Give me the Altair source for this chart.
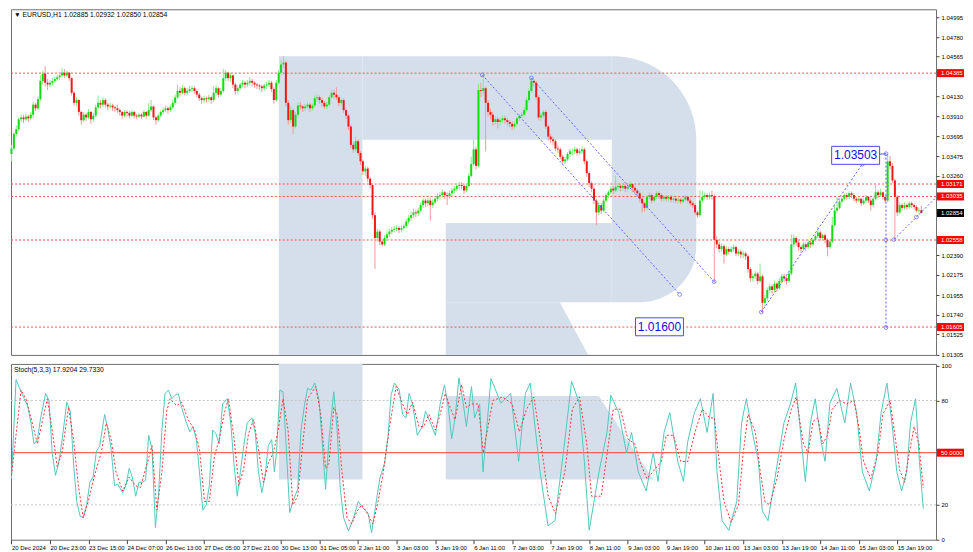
import json
import math
import altair as alt
import pandas as pd

# ---------------- layout ----------------
W, H1, H2 = 926, 346, 176
X_DOMAIN = [-0.2, 384.1]
P_DOMAIN = [1.0130, 1.05084]
S_DOMAIN = [0, 101]
FONT = "Liberation Sans"

header_text = "\u25bc EURUSD,H1  1.02885 1.02932 1.02850 1.02854"
stoch_header = "Stoch(5,3,3) 17.9204 29.7330"

# ---------------- price data (H1 bars) ----------------
first_open = 1.0350
close = [
 1.0356, 1.0372, 1.0377, 1.0388, 1.0390, 1.0388, 1.0391, 1.0389, 1.0393, 1.0404,
 1.0400, 1.0410, 1.0430, 1.0438, 1.0428, 1.0426, 1.0428, 1.0430, 1.0432, 1.0434,
 1.0436, 1.0439, 1.0436, 1.0439, 1.0433, 1.0417, 1.0406, 1.0409, 1.0396, 1.0387,
 1.0393, 1.0390, 1.0396, 1.0388, 1.0392, 1.0401, 1.0406, 1.0404, 1.0409, 1.0404,
 1.0402, 1.0403, 1.0401, 1.0400, 1.0398, 1.0396, 1.0392, 1.0396, 1.0395, 1.0392,
 1.0396, 1.0392, 1.0391, 1.0393, 1.0391, 1.0396, 1.0392, 1.0398, 1.0402, 1.0390,
 1.0387, 1.0392, 1.0396, 1.0398, 1.0400, 1.0398, 1.0401, 1.0406, 1.0412, 1.0419,
 1.0417, 1.0422, 1.0417, 1.0419, 1.0421, 1.0422, 1.0419, 1.0415, 1.0411, 1.0409,
 1.0411, 1.0410, 1.0412, 1.0409, 1.0417, 1.0422, 1.0415, 1.0419, 1.0433, 1.0439,
 1.0433, 1.0436, 1.0426, 1.0419, 1.0422, 1.0426, 1.0428, 1.0426, 1.0428, 1.0430,
 1.0428, 1.0426, 1.0425, 1.0424, 1.0422, 1.0425, 1.0426, 1.0428, 1.0421, 1.0409,
 1.0428, 1.0439, 1.0448, 1.0450, 1.0406, 1.0387, 1.0398, 1.0380, 1.0393, 1.0403,
 1.0402, 1.0400, 1.0402, 1.0404, 1.0400, 1.0403, 1.0411, 1.0412, 1.0409, 1.0406,
 1.0402, 1.0404, 1.0412, 1.0417, 1.0415, 1.0412, 1.0406, 1.0409, 1.0398, 1.0392,
 1.0380, 1.0360, 1.0355, 1.0364, 1.0351, 1.0342, 1.0331, 1.0334, 1.0323, 1.0316,
 1.0283, 1.0258, 1.0265, 1.0254, 1.0251, 1.0258, 1.0262, 1.0265, 1.0267, 1.0268,
 1.0269, 1.0267, 1.0269, 1.0271, 1.0276, 1.0280, 1.0283, 1.0286, 1.0285, 1.0288,
 1.0294, 1.0299, 1.0296, 1.0299, 1.0294, 1.0297, 1.0301, 1.0304, 1.0305, 1.0308,
 1.0305, 1.0304, 1.0307, 1.0310, 1.0312, 1.0315, 1.0316, 1.0315, 1.0310, 1.0315,
 1.0326, 1.0339, 1.0355, 1.0337, 1.0420, 1.0419, 1.0422, 1.0406, 1.0396, 1.0393,
 1.0385, 1.0388, 1.0385, 1.0387, 1.0389, 1.0387, 1.0385, 1.0383, 1.0380, 1.0383,
 1.0389, 1.0392, 1.0393, 1.0398, 1.0409, 1.0419, 1.0430, 1.0428, 1.0412, 1.0390,
 1.0392, 1.0396, 1.0380, 1.0369, 1.0366, 1.0364, 1.0356, 1.0355, 1.0347, 1.0342,
 1.0344, 1.0350, 1.0353, 1.0353, 1.0355, 1.0351, 1.0353, 1.0355, 1.0342, 1.0329,
 1.0318, 1.0312, 1.0299, 1.0286, 1.0294, 1.0288, 1.0299, 1.0305, 1.0308, 1.0312,
 1.0310, 1.0314, 1.0315, 1.0313, 1.0315, 1.0312, 1.0314, 1.0317, 1.0313, 1.0310,
 1.0307, 1.0301, 1.0296, 1.0291, 1.0303, 1.0305, 1.0299, 1.0303, 1.0307, 1.0305,
 1.0301, 1.0303, 1.0301, 1.0303, 1.0300, 1.0301, 1.0299, 1.0300, 1.0298, 1.0300,
 1.0303, 1.0299, 1.0296, 1.0294, 1.0286, 1.0283, 1.0299, 1.0303, 1.0305, 1.0303,
 1.0305, 1.0304, 1.0256, 1.0251, 1.0246, 1.0249, 1.0240, 1.0246, 1.0243, 1.0246,
 1.0248, 1.0241, 1.0243, 1.0240, 1.0241, 1.0238, 1.0224, 1.0214, 1.0216, 1.0219,
 1.0211, 1.0216, 1.0187, 1.0192, 1.0201, 1.0205, 1.0201, 1.0208, 1.0203, 1.0211,
 1.0216, 1.0214, 1.0211, 1.0219, 1.0251, 1.0258, 1.0253, 1.0248, 1.0246, 1.0251,
 1.0248, 1.0253, 1.0251, 1.0256, 1.0260, 1.0264, 1.0258, 1.0261, 1.0256, 1.0248,
 1.0254, 1.0272, 1.0288, 1.0291, 1.0298, 1.0301, 1.0305, 1.0303, 1.0307, 1.0305,
 1.0301, 1.0299, 1.0301, 1.0296, 1.0299, 1.0303, 1.0299, 1.0294, 1.0301, 1.0308,
 1.0305, 1.0308, 1.0303, 1.0299, 1.0342, 1.0337, 1.0321, 1.0303, 1.0286, 1.0294,
 1.0291, 1.0294, 1.0292, 1.0296, 1.0294, 1.0292, 1.0288, 1.02885, 1.02854,
]
high = [
 1.0360, 1.0374, 1.0381, 1.0390, 1.0393, 1.0393, 1.0394, 1.0393, 1.0396, 1.0407,
 1.0406, 1.0413, 1.0436, 1.0441, 1.0446, 1.0432, 1.0431, 1.0433, 1.0435, 1.0437,
 1.0439, 1.0444, 1.0443, 1.0441, 1.0440, 1.0434, 1.0419, 1.0412, 1.0410, 1.0397,
 1.0396, 1.0395, 1.0399, 1.0397, 1.0395, 1.0404, 1.0414, 1.0409, 1.0412, 1.0411,
 1.0406, 1.0406, 1.0405, 1.0403, 1.0404, 1.0400, 1.0397, 1.0398, 1.0398, 1.0397,
 1.0398, 1.0397, 1.0394, 1.0395, 1.0395, 1.0398, 1.0397, 1.0406, 1.0409, 1.0403,
 1.0392, 1.0394, 1.0398, 1.0401, 1.0403, 1.0402, 1.0404, 1.0409, 1.0415, 1.0426,
 1.0423, 1.0425, 1.0424, 1.0422, 1.0424, 1.0425, 1.0424, 1.0421, 1.0417, 1.0413,
 1.0414, 1.0413, 1.0415, 1.0414, 1.0424, 1.0425, 1.0423, 1.0422, 1.0443, 1.0442,
 1.0440, 1.0439, 1.0437, 1.0428, 1.0425, 1.0428, 1.0431, 1.0430, 1.0431, 1.0434,
 1.0432, 1.0430, 1.0428, 1.0427, 1.0426, 1.0427, 1.0429, 1.0431, 1.0430, 1.0423,
 1.0431, 1.0442, 1.0453, 1.0457, 1.0452, 1.0409, 1.0402, 1.0400, 1.0396, 1.0406,
 1.0407, 1.0404, 1.0405, 1.0407, 1.0406, 1.0405, 1.0414, 1.0415, 1.0414, 1.0411,
 1.0408, 1.0407, 1.0414, 1.0420, 1.0420, 1.0423, 1.0414, 1.0412, 1.0411, 1.0400,
 1.0394, 1.0382, 1.0363, 1.0369, 1.0366, 1.0353, 1.0344, 1.0337, 1.0336, 1.0325,
 1.0318, 1.0286, 1.0268, 1.0267, 1.0257, 1.0261, 1.0265, 1.0268, 1.0270, 1.0271,
 1.0272, 1.0271, 1.0272, 1.0274, 1.0279, 1.0283, 1.0287, 1.0290, 1.0289, 1.0291,
 1.0297, 1.0302, 1.0301, 1.0302, 1.0302, 1.0300, 1.0304, 1.0307, 1.0308, 1.0311,
 1.0310, 1.0308, 1.0310, 1.0313, 1.0315, 1.0318, 1.0319, 1.0319, 1.0317, 1.0318,
 1.0329, 1.0347, 1.0366, 1.0358, 1.0427, 1.0428, 1.0437, 1.0424, 1.0409, 1.0400,
 1.0396, 1.0391, 1.0391, 1.0390, 1.0392, 1.0392, 1.0390, 1.0387, 1.0386, 1.0386,
 1.0391, 1.0394, 1.0396, 1.0401, 1.0412, 1.0422, 1.0433, 1.0432, 1.0430, 1.0414,
 1.0395, 1.0398, 1.0398, 1.0382, 1.0372, 1.0369, 1.0366, 1.0359, 1.0357, 1.0349,
 1.0347, 1.0352, 1.0355, 1.0356, 1.0358, 1.0357, 1.0356, 1.0358, 1.0357, 1.0344,
 1.0331, 1.0320, 1.0314, 1.0301, 1.0297, 1.0296, 1.0302, 1.0307, 1.0310, 1.0315,
 1.0315, 1.0326, 1.0318, 1.0317, 1.0318, 1.0317, 1.0316, 1.0320, 1.0318, 1.0315,
 1.0312, 1.0309, 1.0303, 1.0298, 1.0305, 1.0308, 1.0307, 1.0305, 1.0309, 1.0309,
 1.0307, 1.0305, 1.0305, 1.0305, 1.0305, 1.0304, 1.0303, 1.0303, 1.0302, 1.0303,
 1.0305, 1.0304, 1.0301, 1.0298, 1.0296, 1.0288, 1.0310, 1.0310, 1.0308, 1.0307,
 1.0308, 1.0310, 1.0306, 1.0260, 1.0254, 1.0252, 1.0251, 1.0249, 1.0248, 1.0249,
 1.0251, 1.0250, 1.0246, 1.0245, 1.0244, 1.0243, 1.0240, 1.0226, 1.0219, 1.0222,
 1.0221, 1.0230, 1.0218, 1.0196, 1.0204, 1.0208, 1.0207, 1.0211, 1.0210, 1.0214,
 1.0219, 1.0219, 1.0216, 1.0222, 1.0262, 1.0262, 1.0260, 1.0255, 1.0250, 1.0254,
 1.0253, 1.0256, 1.0255, 1.0258, 1.0262, 1.0270, 1.0266, 1.0263, 1.0263, 1.0258,
 1.0257, 1.0281, 1.0295, 1.0303, 1.0301, 1.0304, 1.0307, 1.0307, 1.0309, 1.0309,
 1.0307, 1.0303, 1.0303, 1.0302, 1.0301, 1.0305, 1.0304, 1.0301, 1.0303, 1.0316,
 1.0310, 1.0312, 1.0309, 1.0305, 1.03503, 1.0348, 1.0340, 1.0323, 1.0305, 1.0297,
 1.0296, 1.0297, 1.0296, 1.0298, 1.0298, 1.0296, 1.0294, 1.0291, 1.02932,
]
low = [
 1.0342, 1.0354, 1.0369, 1.0375, 1.0385, 1.0384, 1.0386, 1.0385, 1.0387, 1.0389,
 1.0397, 1.0398, 1.0408, 1.0426, 1.0424, 1.0420, 1.0423, 1.0425, 1.0428, 1.0430,
 1.0431, 1.0434, 1.0433, 1.0434, 1.0430, 1.0414, 1.0403, 1.0402, 1.0392, 1.0382,
 1.0385, 1.0386, 1.0388, 1.0383, 1.0385, 1.0390, 1.0399, 1.0400, 1.0401, 1.0401,
 1.0398, 1.0399, 1.0397, 1.0396, 1.0395, 1.0392, 1.0389, 1.0390, 1.0391, 1.0389,
 1.0390, 1.0389, 1.0388, 1.0389, 1.0388, 1.0390, 1.0389, 1.0391, 1.0396, 1.0387,
 1.0382, 1.0385, 1.0390, 1.0394, 1.0396, 1.0394, 1.0396, 1.0399, 1.0404, 1.0410,
 1.0413, 1.0415, 1.0414, 1.0414, 1.0417, 1.0418, 1.0416, 1.0412, 1.0408, 1.0405,
 1.0406, 1.0406, 1.0407, 1.0405, 1.0407, 1.0414, 1.0412, 1.0413, 1.0417, 1.0430,
 1.0430, 1.0429, 1.0422, 1.0415, 1.0416, 1.0420, 1.0423, 1.0422, 1.0423, 1.0425,
 1.0424, 1.0422, 1.0421, 1.0420, 1.0418, 1.0419, 1.0421, 1.0423, 1.0418, 1.0405,
 1.0407, 1.0426, 1.0436, 1.0444, 1.0402, 1.0382, 1.0384, 1.0372, 1.0378, 1.0390,
 1.0398, 1.0396, 1.0397, 1.0399, 1.0396, 1.0397, 1.0401, 1.0407, 1.0405, 1.0402,
 1.0399, 1.0399, 1.0402, 1.0410, 1.0411, 1.0409, 1.0402, 1.0403, 1.0395, 1.0388,
 1.0376, 1.0356, 1.0351, 1.0352, 1.0348, 1.0338, 1.0327, 1.0326, 1.0319, 1.0312,
 1.0279, 1.0224, 1.0254, 1.0250, 1.0249, 1.0249, 1.0255, 1.0259, 1.0262, 1.0264,
 1.0265, 1.0263, 1.0264, 1.0266, 1.0269, 1.0273, 1.0277, 1.0280, 1.0281, 1.0282,
 1.0286, 1.0291, 1.0292, 1.0293, 1.0277, 1.0291, 1.0295, 1.0298, 1.0300, 1.0302,
 1.0301, 1.0294, 1.0301, 1.0304, 1.0307, 1.0309, 1.0311, 1.0311, 1.0306, 1.0308,
 1.0313, 1.0324, 1.0337, 1.0333, 1.0335, 1.0412, 1.0414, 1.0353, 1.0391, 1.0388,
 1.0381, 1.0382, 1.0378, 1.0381, 1.0384, 1.0383, 1.0381, 1.0379, 1.0376, 1.0377,
 1.0381, 1.0386, 1.0389, 1.0391, 1.0396, 1.0406, 1.0417, 1.0424, 1.0409, 1.0387,
 1.0386, 1.0389, 1.0377, 1.0365, 1.0362, 1.0360, 1.0353, 1.0351, 1.0344, 1.0339,
 1.0339, 1.0342, 1.0347, 1.0349, 1.0350, 1.0348, 1.0349, 1.0350, 1.0339, 1.0325,
 1.0314, 1.0308, 1.0295, 1.0272, 1.0283, 1.0284, 1.0286, 1.0297, 1.0302, 1.0306,
 1.0306, 1.0308, 1.0310, 1.0309, 1.0310, 1.0308, 1.0309, 1.0312, 1.0309, 1.0306,
 1.0303, 1.0297, 1.0286, 1.0287, 1.0289, 1.0300, 1.0296, 1.0297, 1.0301, 1.0301,
 1.0298, 1.0298, 1.0298, 1.0298, 1.0297, 1.0297, 1.0296, 1.0296, 1.0295, 1.0296,
 1.0298, 1.0296, 1.0293, 1.0291, 1.0283, 1.0280, 1.0281, 1.0297, 1.0300, 1.0300,
 1.0300, 1.0300, 1.0209, 1.0247, 1.0242, 1.0243, 1.0230, 1.0238, 1.0240, 1.0241,
 1.0243, 1.0238, 1.0238, 1.0236, 1.0236, 1.0234, 1.0220, 1.0210, 1.0210, 1.0213,
 1.0207, 1.0209, 1.0176, 1.0183, 1.0189, 1.0198, 1.0197, 1.0199, 1.0199, 1.0201,
 1.0208, 1.0210, 1.0207, 1.0209, 1.0217, 1.0248, 1.0249, 1.0244, 1.0242, 1.0244,
 1.0244, 1.0246, 1.0247, 1.0249, 1.0254, 1.0258, 1.0255, 1.0256, 1.0252, 1.0238,
 1.0246, 1.0252, 1.0270, 1.0285, 1.0289, 1.0296, 1.0299, 1.0300, 1.0301, 1.0302,
 1.0298, 1.0296, 1.0297, 1.0293, 1.0294, 1.0297, 1.0296, 1.0288, 1.0292, 1.0299,
 1.0302, 1.0303, 1.0300, 1.0296, 1.0297, 1.0333, 1.0318, 1.0257, 1.0282, 1.0284,
 1.0288, 1.0289, 1.0289, 1.0290, 1.0291, 1.0289, 1.0286, 1.0284, 1.02850,
]

# ---------------- stochastic readings (bar position, value) ----------------
k_points = [
 (0, 35), (1.9, 92), (4.0, 85), (5.3, 81), (6.7, 77), (8.1, 67), (9.4, 55), (10.8, 57.5),
 (12.1, 70), (14.2, 84), (15.6, 80), (16.9, 50), (18.3, 37), (19.6, 44), (21.0, 57),
 (23.0, 79), (24.4, 74), (25.8, 44), (27.1, 22), (28.5, 13.6), (29.8, 12.6), (31.2, 20),
 (32.6, 33), (33.9, 36), (35.3, 51), (36.6, 53.5), (38.7, 72), (40.0, 64), (41.4, 52),
 (42.8, 31), (44.1, 32), (46.2, 27), (47.5, 31), (48.9, 41), (50.2, 36), (51.6, 25),
 (53.0, 33), (54.3, 33), (55.7, 34), (57.0, 60), (58.4, 52), (59.8, 7), (61.1, 26),
 (62.5, 63), (63.8, 84), (65.2, 86), (66.6, 81), (67.9, 83), (69.3, 84), (70.7, 76),
 (72.7, 67), (74.1, 62), (75.4, 65), (76.8, 57.5), (78.1, 39), (79.5, 17), (80.9, 20),
 (82.2, 31), (83.6, 63), (84.9, 61), (86.3, 55), (87.7, 78), (89.7, 81), (91.1, 67),
 (92.4, 44), (93.8, 25), (95.1, 39), (96.5, 54), (97.9, 67), (99.9, 70), (101.3, 61),
 (102.6, 39), (104.0, 27), (105.3, 36), (106.7, 54), (108.1, 57.5), (109.2, 39),
 (110.1, 50), (111.5, 86), (112.8, 85), (114.2, 52), (115.6, 15.6), (116.9, 22),
 (118.9, 29), (120.3, 63), (121.7, 77), (123.0, 87), (124.4, 86), (126.0, 90),
 (127.8, 80), (129.2, 54), (130.5, 29), (131.9, 57.5), (133.9, 85), (135.3, 63),
 (136.6, 29), (138.0, 12.6), (140.0, 5), (142.1, 12.6), (144.1, 22), (146.2, 18),
 (148.2, 15), (149.6, 4), (150.9, 16), (153.0, 35), (155.0, 44), (156.4, 59),
 (157.7, 83), (159.1, 90), (161.1, 86), (162.5, 72), (163.9, 70), (165.2, 84),
 (166.6, 78), (168.6, 60), (170.7, 65), (172.0, 74), (174.1, 67), (176.1, 60),
 (178.1, 78), (179.9, 89), (181.5, 76), (182.9, 58), (184.3, 70), (185.9, 93),
 (187.7, 78), (189.0, 65), (191.1, 88), (192.4, 70), (194.5, 78),
 (195.9, 39), (199.2, 92.6), (203.3, 78.5), (207.4, 84), (210.7, 45), (213.5, 84),
 (215.5, 90), (219.6, 39), (222.9, 8), (225.8, 11), (229.8, 56), (232.7, 91),
 (235.9, 78.5), (238.0, 45), (240.0, 5.4), (244.1, 39), (247.4, 61.6), (249.0, 83),
 (252.3, 73), (255.5, 50), (257.6, 61.6), (260.4, 39), (263.7, 28), (266.6, 50),
 (268.6, 33.5), (271.1, 61.6), (273.5, 73), (276.8, 45), (279.2, 33.5), (280.9, 56),
 (283.7, 73), (286.2, 81), (289.0, 61.6), (291.5, 84), (293.1, 39), (295.2, 11),
 (298.0, 5.4), (301.3, 22), (303.3, 67), (305.3, 81), (307.8, 61.6), (310.3, 45),
 (311.9, 16.6), (314.3, 11), (317.6, 39), (320.9, 67), (323.7, 78.5), (325.8, 90),
 (328.2, 56), (329.8, 33.5), (331.9, 67), (333.9, 81), (336.4, 56), (338.0, 45),
 (340.0, 78.5), (342.9, 87), (346.2, 67), (348.6, 90), (351.1, 73), (353.5, 39),
 (356.4, 28), (359.2, 45), (361.3, 73), (363.7, 90), (365.8, 67), (367.8, 39),
 (369.8, 28), (371.9, 39), (373.5, 67), (375.6, 81), (377.2, 45), (378.8, 17.9),
]
d_points = [
 (0, 37), (4.0, 86), (6.0, 81), (8.1, 70), (10.8, 55), (12.8, 68), (14.9, 81), (16.9, 63),
 (19.0, 42), (21.0, 50), (23.7, 76), (25.8, 57.5), (27.8, 31), (29.8, 12.6), (31.9, 22),
 (34.6, 37.5), (37.3, 50), (39.4, 67), (41.4, 57.5), (43.4, 39), (46.2, 28), (48.9, 36),
 (51.6, 31), (53.6, 30), (56.4, 44), (58.4, 54), (60.4, 17), (62.5, 39), (64.5, 74),
 (65.9, 81), (68.6, 77), (70.7, 79), (73.4, 69), (76.1, 63), (78.1, 52), (80.2, 22),
 (82.2, 22), (84.3, 48), (86.3, 57.5), (88.3, 72), (90.1, 81), (92.4, 59), (94.5, 31),
 (96.5, 41), (98.5, 61), (100.6, 69), (102.6, 52), (104.7, 33), (106.7, 44), (108.8, 50),
 (110.8, 63), (112.8, 81), (114.9, 63), (116.9, 20), (118.9, 25), (121.0, 55), (123.0, 81),
 (126.4, 88), (128.5, 72), (130.5, 41), (131.9, 44), (133.9, 76), (135.3, 72), (137.3, 39),
 (139.4, 12.6), (141.4, 9), (143.4, 16), (145.5, 20), (147.5, 16), (150.2, 9), (152.3, 22),
 (154.3, 37.5), (157.1, 65), (159.8, 88), (162.5, 78), (164.5, 72), (166.6, 79), (169.3, 65),
 (171.3, 65), (173.4, 72), (176.1, 63), (178.1, 72), (180.2, 84), (182.2, 76), (184.3, 69),
 (187.0, 89), (189.0, 76), (191.1, 78), (193.9, 78),
 (196, 50), (200, 80), (204, 82), (208, 78), (211, 62), (214, 75), (217, 82), (220, 55),
 (223, 25), (226, 15), (230, 40), (233, 75), (236, 82), (239, 55), (241, 25), (245, 25),
 (248, 55), (250, 75), (253, 75), (256, 58), (259, 55), (261, 45), (264, 35), (267, 40),
 (270, 45), (272, 60), (275, 60), (278, 45), (281, 45), (284, 62), (287, 75), (290, 70),
 (292, 70), (294, 45), (296, 22), (299, 10), (302, 20), (304, 50), (306, 72), (309, 62),
 (311, 40), (313, 22), (315, 20), (318, 35), (321, 58), (324, 75), (326, 82), (329, 55),
 (331, 50), (333, 68), (335, 70), (337, 55), (339, 60), (341, 75), (344, 80), (347, 78),
 (350, 80), (352, 65), (354, 45), (357, 35), (360, 50), (362, 72), (365, 80), (367, 60),
 (369, 40), (371, 33), (373, 50), (375, 65), (377, 55), (378.8, 29.7),
]

# ---------------- levels, axis ticks, annotations ----------------
level_prices = [1.04385, 1.03171, 1.03035, 1.02558, 1.01605]
level_texts = ["1.04385", "1.03171", "1.03035", "1.02558", "1.01605"]
current_price = 1.02854
current_text = "1.02854"
# visible price-scale labels (those hidden under the level boxes are left out)
price_ticks = [1.04995, 1.04780, 1.04565, 1.04130, 1.03910, 1.03695, 1.03475,
               1.03260, 1.02390, 1.02175, 1.01955, 1.01740, 1.01525, 1.01305]
time_labels = ["20 Dec 2024", "20 Dec 23:00", "23 Dec 15:00", "24 Dec 07:00", "26 Dec 13:00",
               "27 Dec 05:00", "27 Dec 21:00", "30 Dec 13:00", "31 Dec 05:00", "2 Jan 11:00",
               "3 Jan 03:00", "3 Jan 19:00", "6 Jan 11:00", "7 Jan 03:00", "7 Jan 19:00",
               "8 Jan 11:00", "9 Jan 03:00", "9 Jan 19:00", "10 Jan 11:00", "13 Jan 03:00",
               "13 Jan 19:00", "14 Jan 11:00", "15 Jan 03:00", "15 Jan 19:00"]
time_ticks = [16 * i for i in range(len(time_labels))]
stoch_ticks = [0, 20, 80, 100]

trend_lines = {
    "a": [(195.6, 1.04365), (277.6, 1.01962)],
    "b": [(216.0, 1.04333), (291.9, 1.02102)],
    "c": [(311.5, 1.01769), (353.5, 1.03389)],
    "d": [(363.3, 1.03503), (363.3, 1.01600)],
    "e": [(366.6, 1.02563), (384.1, 1.03024)],
}
anchor_points = [(195.6, 1.04365), (277.6, 1.01962), (216.0, 1.04333), (291.9, 1.02102),
                 (311.5, 1.01769), (353.5, 1.03389), (363.3, 1.03503), (363.3, 1.02560),
                 (363.3, 1.01600), (366.6, 1.02563), (376.0, 1.02810)]
connector = [(360.4, 1.03497), (363.3, 1.03503)]
box_labels = [(350.7, 1.03485, "1.03503"), (269.2, 1.01608, "1.01600")]

# ---------------- colours ----------------
UP_BODY, UP_WICK = "#12dc12", "#8ae88a"
DN_BODY, DN_WICK = "#ec1a1a", "#f39a9a"
LEVEL_RED = "#ff4d4d"
TREND_BLUE = "#5d5dff"
WM = "#d5dfeb"
K_COL, D_COL = "#52c8bd", "#ff3333"

# ---------------- build frames ----------------
n = min(len(close), len(high), len(low))
bars = list(range(n))
opens = [first_open] + close[: n - 1]
candles = pd.DataFrame({"bar": bars, "open": opens, "high": high[:n], "low": low[:n], "close": close[:n]})

# watermark "R" (decorative background), in chart units
R_LEFT, R_STEM_R, HOLE_R, LEG_L = 111.1, 145.8, 249.4, 180.4
R_TOP, HOLE_T, HOLE_B, BOWL_B = 1.04569, 1.03657, 1.02745, 1.01876
wm_rows = []
def add_piece(name, pts):
    for b, t, bt in pts:
        wm_rows.append({"piece": name, "bar": b, "top": t, "bottom": bt})

add_piece("stem", [(R_LEFT, R_TOP, P_DOMAIN[0]), (R_STEM_R, R_TOP, P_DOMAIN[0])])
add_piece("topbar", [(R_STEM_R, R_TOP, HOLE_T), (HOLE_R, R_TOP, HOLE_T)])
add_piece("bowlbottom", [(LEG_L, HOLE_B, BOWL_B), (HOLE_R, HOLE_B, BOWL_B)])
add_piece("leg", [(LEG_L, BOWL_B, P_DOMAIN[0]), (227.8, BOWL_B, P_DOMAIN[0]), (239.6, P_DOMAIN[0], P_DOMAIN[0])])
right_pts = []
cx1, rx1, ry1 = 250.2, 34.3, R_TOP - HOLE_T
cx2, rx2, ry2, cy2 = 260.7, 23.8, 0.00611, 1.02487
xr = HOLE_R
while xr <= cx1 + rx1 + 1e-9:
    t = R_TOP if xr <= cx1 else HOLE_T + ry1 * math.sqrt(max(0.0, 1 - ((xr - cx1) / rx1) ** 2))
    bt = BOWL_B if xr <= cx2 else cy2 - ry2 * math.sqrt(max(0.0, 1 - ((xr - cx2) / rx2) ** 2))
    right_pts.append((xr, t, bt))
    xr += 0.5
right_pts.append((cx1 + rx1, HOLE_T, cy2))
add_piece("bowlright", right_pts)
wm_price = pd.DataFrame(wm_rows)

wm_stoch = pd.DataFrame([
    {"piece": "stem", "bar": R_LEFT, "top": 101, "bottom": 34.6},
    {"piece": "stem", "bar": R_STEM_R, "top": 101, "bottom": 34.6},
    {"piece": "leg", "bar": LEG_L, "top": 82.5, "bottom": 34.6},
    {"piece": "leg", "bar": 244.0, "top": 82.5, "bottom": 34.6},
    {"piece": "leg", "bar": 266.6, "top": 34.6, "bottom": 34.6},
])

levels = pd.DataFrame({"p": level_prices, "t": level_texts, "c": ["#ff0000"] * len(level_prices)})
labels_right = pd.concat([levels, pd.DataFrame({"p": [current_price], "t": [current_text], "c": ["#000000"]})])

tl_rows = []
for name, pts in trend_lines.items():
    for k, (b, p) in enumerate(pts):
        tl_rows.append({"line": name, "seq": k, "bar": b, "p": p})
trend_df = pd.DataFrame(tl_rows)
anchor_df = pd.DataFrame(anchor_points, columns=["bar", "p"])
conn_df = pd.DataFrame(connector, columns=["bar", "p"])
box_df = pd.DataFrame(box_labels, columns=["bar", "p", "t"])

k_df = pd.DataFrame(k_points, columns=["bar", "v"])
d_df = pd.DataFrame(d_points, columns=["bar", "v"])

# ---------------- scales / axes ----------------
xs = alt.Scale(domain=X_DOMAIN, nice=False, zero=False)
ps = alt.Scale(domain=P_DOMAIN, nice=False, zero=False)
ss = alt.Scale(domain=S_DOMAIN, nice=False, zero=False)
AX_FS = 6
price_axis = alt.Axis(orient="right", values=price_ticks, format=".5f", title=None, grid=False,
                      tickSize=3, labelPadding=2, domain=False, labelFontSize=AX_FS, labelFont=FONT,
                      labelColor="#000000", tickColor="#444444")
label_expr = json.dumps(time_labels) + "[round(datum.value / 16)]"
time_axis = alt.Axis(values=time_ticks, labelExpr=label_expr, title=None, grid=False, tickSize=4,
                     labelAlign="left", labelPadding=1, labelFontSize=AX_FS, domain=False,
                     labelFlush=False, labelOverlap=False, labelFont=FONT, labelColor="#000000",
                     tickColor="#444444", labelBound=False)
stoch_axis = alt.Axis(orient="right", values=stoch_ticks, title=None, grid=False, tickSize=3,
                      labelPadding=2, domain=False, labelFontSize=AX_FS, labelFont=FONT,
                      labelColor="#000000", tickColor="#444444")

def PX(field="bar"):
    return alt.X(f"{field}:Q", scale=xs, axis=None)

def PY(field):
    return alt.Y(f"{field}:Q", scale=ps, axis=price_axis)

def SX(field="bar"):
    return alt.X(f"{field}:Q", scale=xs, axis=time_axis)

def SY(field):
    return alt.Y(f"{field}:Q", scale=ss, axis=stoch_axis)

# ---------------- price panel ----------------
wm_layer = alt.Chart(wm_price).mark_area(color=WM, opacity=1).encode(
    x=PX(), y=PY("top"), y2="bottom:Q", detail="piece:N")
level_layer = alt.Chart(levels).mark_rule(color=LEVEL_RED, strokeDash=[2, 2], strokeWidth=1).encode(
    y=PY("p"))
up = "datum.close >= datum.open"
wick_layer = alt.Chart(candles).mark_rule(strokeWidth=1).encode(
    x=PX(), y=PY("low"), y2="high:Q",
    color=alt.condition(up, alt.value(UP_WICK), alt.value(DN_WICK)))
body_layer = alt.Chart(candles).mark_rule(strokeWidth=2).encode(
    x=PX(), y=PY("open"), y2="close:Q",
    color=alt.condition(up, alt.value(UP_BODY), alt.value(DN_BODY)))
trend_layer = alt.Chart(trend_df).mark_line(color=TREND_BLUE, strokeDash=[2, 2], strokeWidth=1).encode(
    x=PX(), y=PY("p"), detail="line:N", order="seq:Q")
conn_layer = alt.Chart(conn_df).mark_line(color=TREND_BLUE, strokeWidth=1).encode(x=PX(), y=PY("p"))
anchor_layer = alt.Chart(anchor_df).mark_point(shape="circle", size=14, filled=False,
                                              color=TREND_BLUE, strokeWidth=1).encode(x=PX(), y=PY("p"))
box_layer = alt.Chart(box_df).mark_rect(fill="white", stroke="#4a4aff", strokeWidth=1,
                                        xOffset=-24, x2Offset=24, yOffset=-9, y2Offset=9).encode(
    x=PX(), x2="bar:Q", y=PY("p"), y2="p:Q")
box_text = alt.Chart(box_df).mark_text(font=FONT, fontSize=12, color="#1010e0", baseline="middle").encode(
    x=PX(), y=PY("p"), text="t:N")
rlab_rect = alt.Chart(labels_right).mark_rect(yOffset=-4, y2Offset=4).encode(
    x=alt.value(W + 1), x2=alt.value(W + 28), y=PY("p"), y2="p:Q",
    color=alt.Color("c:N", scale=None))
rlab_text = alt.Chart(labels_right).mark_text(font=FONT, fontSize=AX_FS, color="white", align="left",
                                              baseline="middle").encode(
    x=alt.value(W + 5), y=PY("p"), text="t:N")
head_layer = alt.Chart(pd.DataFrame({"t": [header_text]})).mark_text(
    font=FONT, fontSize=6.8, align="left", baseline="top", color="#000000").encode(
    x=alt.value(3), y=alt.value(3), text="t:N")

price_panel = alt.layer(
    wm_layer, level_layer, wick_layer, body_layer, trend_layer, conn_layer, anchor_layer,
    box_layer, box_text, rlab_rect, rlab_text, head_layer
).properties(width=W, height=H1)

# ---------------- stochastic panel ----------------
swm_layer = alt.Chart(wm_stoch).mark_area(color=WM, opacity=1).encode(
    x=SX(), y=SY("top"), y2="bottom:Q", detail="piece:N")
band_layer = alt.Chart(pd.DataFrame({"v": [20, 80]})).mark_rule(
    color="#c4c4c4", strokeDash=[2, 2], strokeWidth=1).encode(y=SY("v"))
mid_layer = alt.Chart(pd.DataFrame({"v": [50]})).mark_rule(color="#ff3b3b", strokeWidth=1).encode(
    y=SY("v"))
k_layer = alt.Chart(k_df).mark_line(color=K_COL, strokeWidth=1).encode(x=SX(), y=SY("v"))
d_layer = alt.Chart(d_df).mark_line(color=D_COL, strokeWidth=1, strokeDash=[2, 2]).encode(
    x=SX(), y=SY("v"))
mid_df = pd.DataFrame({"v": [50], "t": ["50.0000"]})
mid_box = alt.Chart(mid_df).mark_rect(color="#ff0000", yOffset=-4, y2Offset=4).encode(
    x=alt.value(W + 1), x2=alt.value(W + 28), y=SY("v"), y2="v:Q")
mid_text = alt.Chart(mid_df).mark_text(
    font=FONT, fontSize=AX_FS, color="white", align="left", baseline="middle").encode(
    x=alt.value(W + 5), y=SY("v"), text="t:N")
shead = alt.Chart(pd.DataFrame({"t": [stoch_header]})).mark_text(
    font=FONT, fontSize=6.8, align="left", baseline="top", color="#000000").encode(
    x=alt.value(3), y=alt.value(3), text="t:N")

stoch_panel = alt.layer(
    swm_layer, band_layer, mid_layer, k_layer, d_layer, mid_box, mid_text, shead
).properties(width=W, height=H2)

chart = alt.vconcat(price_panel, stoch_panel, spacing=3, padding=0).configure(
    background="white"
).configure_view(stroke="#6e6e6e", strokeWidth=1)

chart.save("out.html", embed_options={"renderer": "svg", "actions": False})
